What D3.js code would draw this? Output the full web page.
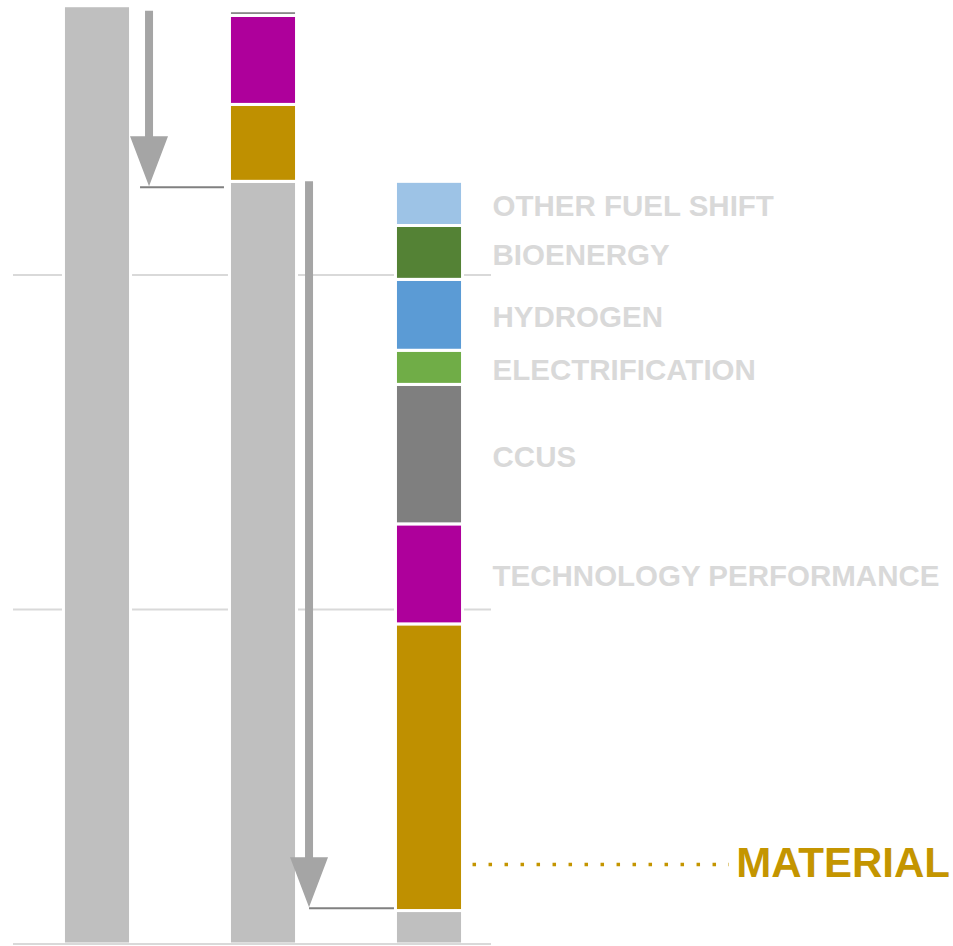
<!DOCTYPE html>
<html>
<head>
<meta charset="utf-8">
<script src="https://cdn.jsdelivr.net/npm/d3@7"></script>
<style>
  html, body { margin: 0; padding: 0; background: #ffffff; }
  svg { display: block; }
</style>
</head>
<body>
<script>
// Emission pathway: baseline total, first-stage reductions, and the full breakdown of the remaining gap.
const stageNames = ["Baseline", "Stage 1", "Stage 2"];

const baselineKeys = ["Total"];
const baselineValues = [2.805];

const stage1Keys = ["Remaining", "Material", "Technology performance", "CCUS"];
const stage1Values = [2.28, 0.230, 0.266, 0.014];

const stage2Keys = ["Residual", "Material", "Technology performance", "CCUS",
                    "Electrification", "Hydrogen", "Bioenergy", "Other fuel shift"];
const stage2Values = [0.100, 0.857, 0.299, 0.417, 0.102, 0.212, 0.161, 0.132];

const segmentLabels = ["", "MATERIAL", "TECHNOLOGY PERFORMANCE", "CCUS",
                       "ELECTRIFICATION", "HYDROGEN", "BIOENERGY", "OTHER FUEL SHIFT"];

const gridValues = [0, 1, 2];

// Reduction arrows: start level and end level of each step
const arrowFrom = [2.79, 2.28];
const arrowTo = [2.265, 0.11];

const colors = {
  "Total": "#bfbfbf",
  "Remaining": "#bfbfbf",
  "Residual": "#bfbfbf",
  "Material": "#bf9000",
  "Technology performance": "#ae009b",
  "CCUS": "#7f7f7f",
  "Electrification": "#70ad47",
  "Hydrogen": "#5b9bd5",
  "Bioenergy": "#548235",
  "Other fuel shift": "#9dc3e6"
};

const W = 953, H = 946;
const svg = d3.select("body").append("svg").attr("width", W).attr("height", H);

const x = d3.scaleBand().domain(stageNames).range([14, 512])
  .paddingInner(0.596).paddingOuter(0.298);
const y = d3.scaleLinear().domain([0, 2.8]).range([944, 944 - 2.8 * 334.5]);

// gridlines (behind the bars)
svg.append("g").selectAll("line").data(gridValues.filter(v => v > 0)).join("line")
  .attr("x1", 13).attr("x2", 491)
  .attr("y1", d => y(d)).attr("y2", d => y(d))
  .attr("stroke", "#d9d9d9").attr("stroke-width", 2);

// stacked segments per stage
function stackOf(keys, values) {
  let acc = 0;
  return keys.map((k, i) => {
    const s = { key: k, y0: acc, y1: acc + values[i], idx: i };
    acc += values[i];
    return s;
  });
}
const stacks = [
  stackOf(baselineKeys, baselineValues),
  stackOf(stage1Keys, stage1Values),
  stackOf(stage2Keys, stage2Values)
];

const barG = svg.append("g");
stacks.forEach((segs, si) => {
  barG.append("g").selectAll("rect").data(segs).join("rect")
    .attr("x", x(stageNames[si]))
    .attr("width", x.bandwidth())
    .attr("y", d => y(d.y1))
    .attr("height", d => y(d.y0) - y(d.y1))
    .attr("fill", d => colors[d.key])
    .attr("stroke", "#ffffff")
    .attr("stroke-width", 3);
});

// baseline axis line
svg.append("line")
  .attr("x1", 13).attr("x2", 491)
  .attr("y1", y(0)).attr("y2", y(0))
  .attr("stroke", "#d9d9d9").attr("stroke-width", 2);

// reduction arrows with leader lines to the next stage
const arrowGap = [18.5, 12.5];
const shaftW = 8, headW = 38, headL = 50;
arrowFrom.forEach((from, i) => {
  const cx = x(stageNames[i]) + x.bandwidth() + arrowGap[i];
  const yTop = y(from);
  const yTip = y(arrowTo[i]);
  const yHead = yTip - headL;
  const p = d3.path();
  p.moveTo(cx - shaftW / 2, yTop);
  p.lineTo(cx + shaftW / 2, yTop);
  p.lineTo(cx + shaftW / 2, yHead);
  p.lineTo(cx + headW / 2, yHead);
  p.lineTo(cx, yTip);
  p.lineTo(cx - headW / 2, yHead);
  p.lineTo(cx - shaftW / 2, yHead);
  p.closePath();
  svg.append("path").attr("d", p.toString()).attr("fill", "#a5a5a5");

  const nextLeft = x(stageNames[i + 1]);
  svg.append("line")
    .attr("x1", cx - (i === 0 ? 9 : 0)).attr("x2", nextLeft - (i === 0 ? 5.5 : 1.5))
    .attr("y1", yTip + 1).attr("y2", yTip + 1)
    .attr("stroke", "#808080").attr("stroke-width", 2);
});

// labels for the breakdown segments
const labelX = x(stageNames[2]) + x.bandwidth() + 30;
const lastStack = stacks[2];
svg.append("g").selectAll("text")
  .data(lastStack.filter(d => segmentLabels[d.idx] && d.key !== "Material"))
  .join("text")
  .attr("x", labelX)
  .attr("y", d => (y(d.y0) + y(d.y1)) / 2 + 2)
  .attr("dominant-baseline", "central")
  .attr("font-family", "'Liberation Sans', Arial, sans-serif")
  .attr("font-weight", "bold")
  .attr("font-size", 29.5)
  .attr("fill", "#d9d9d9")
  .text(d => segmentLabels[d.idx]);

// highlighted material label with dotted leader
const mat = lastStack.find(d => d.key === "Material");
const matY = y(mat.y0) - 48;
const dotStart = x(stageNames[2]) + x.bandwidth() + 10;
svg.append("line")
  .attr("x1", dotStart).attr("x2", 729)
  .attr("y1", matY + 2).attr("y2", matY + 2)
  .attr("stroke", "#c49500").attr("stroke-width", 3.5)
  .attr("stroke-dasharray", "3.5,12.5");
svg.append("text")
  .attr("x", 950)
  .attr("y", matY)
  .attr("text-anchor", "end")
  .attr("dominant-baseline", "central")
  .attr("font-family", "'Liberation Sans', Arial, sans-serif")
  .attr("font-weight", "bold")
  .attr("font-size", 42)
  .attr("fill", "#c49500")
  .text(segmentLabels[mat.idx]);
</script>
</body>
</html>
